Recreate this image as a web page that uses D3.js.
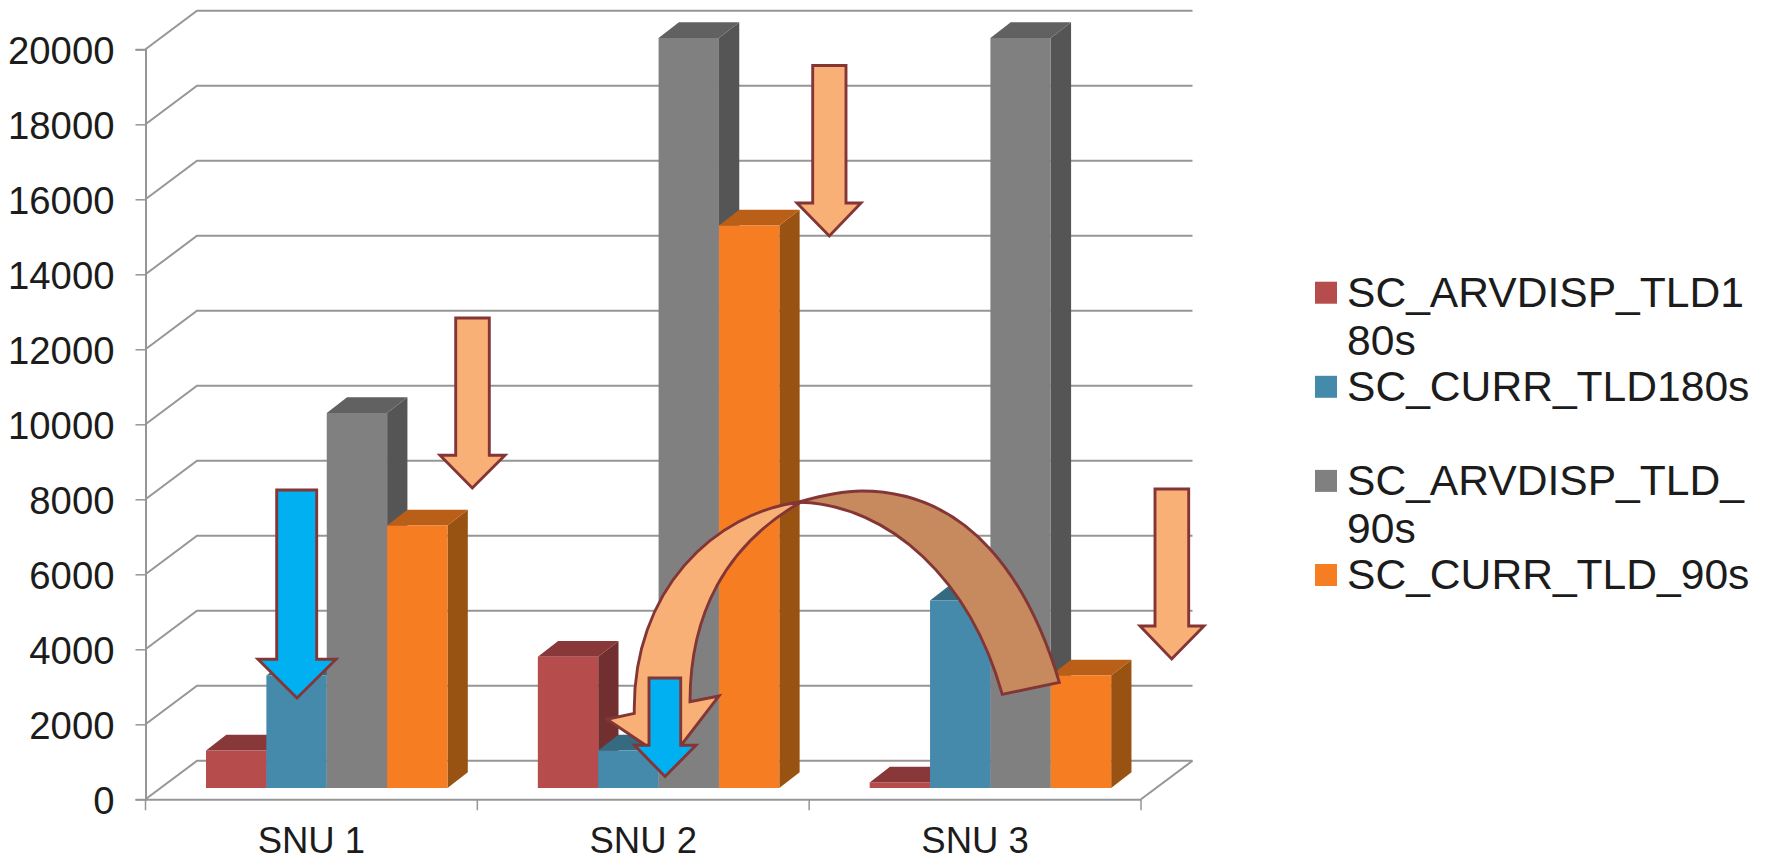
<!DOCTYPE html>
<html>
<head>
<meta charset="utf-8">
<style>
html,body{margin:0;padding:0;background:#fff;overflow:hidden}
svg{display:block}
text{font-family:"Liberation Sans",Arial,sans-serif;fill:#1c1c1c}
</style>
<script src="https://cdn.jsdelivr.net/npm/d3@7/dist/d3.min.js"></script>
</head>
<body>
<svg id="chart" width="1769" height="861"></svg>
<script>
const categories = ["SNU 1", "SNU 2", "SNU 3"];
const seriesNames = ["SC_ARVDISP_TLD180s", "SC_CURR_TLD180s", "SC_ARVDISP_TLD_90s", "SC_CURR_TLD_90s"];
const legendLines = [["SC_ARVDISP_TLD1", "80s"], ["SC_CURR_TLD180s"], ["SC_ARVDISP_TLD_", "90s"], ["SC_CURR_TLD_90s"]];
const arvdisp180 = [1000, 3500, 150];
const curr180 = [3000, 1000, 5000];
const arvdisp90 = [10000, 20000, 20000];
const curr90 = [7000, 15000, 3000];
const seriesValues = [arvdisp180, curr180, arvdisp90, curr90];
const yTicks = [0, 2000, 4000, 6000, 8000, 10000, 12000, 14000, 16000, 18000, 20000];

const frontColors = ["#B64C4C", "#468AAB", "#808080", "#F67D21"];
const topColors = ["#883838", "#356A80", "#616161", "#BA5F17"];
const sideColors = ["#722F2F", "#2E5A6E", "#555555", "#985212"];

const svg = d3.select("#chart");
const gridCol = "#969696";

// scales
const axisY = d3.scaleLinear().domain([0, 20000]).range([799.3, 49.3]);
const barY = d3.scaleLinear().domain([0, 20000]).range([788, 38]);
const band = d3.scaleBand().domain(categories).range([145.5, 1141]);
const inner = d3.scaleBand().domain(d3.range(4)).range([60.5, 60.5 + 241.5]);
const wallDx = 51.5, wallDy = -38.5, barDx = 20.3, barDy = -15.7;

// walls: grid lines
const grid = svg.append("g").attr("fill", "none").attr("stroke", gridCol).attr("stroke-width", 2);
yTicks.forEach(t => {
  const y = axisY(t);
  grid.append("path").attr("d", d3.line()([[145.5, y], [145.5 + wallDx, y + wallDy], [1141 + wallDx, y + wallDy]]));
});
grid.append("path").attr("d", d3.line()([[1141, axisY(0)], [1141 + wallDx, axisY(0) + wallDy]]));

// axes
const yAxis = svg.append("g").attr("transform", "translate(145.5,0)")
  .call(d3.axisLeft(axisY).tickValues(yTicks).tickFormat(d3.format("d")).tickSize(10).tickPadding(21));
yAxis.selectAll("path,line").attr("stroke", gridCol).attr("stroke-width", 2);
yAxis.selectAll("line").attr("stroke-width", 1.5);
yAxis.selectAll("text").attr("font-size", 38.3).attr("dy", "0.36em").style("font-family", '"Liberation Sans",Arial,sans-serif');

const xAxis = svg.append("g").attr("transform", `translate(0,${axisY(0)})`)
  .call(d3.axisBottom(band).tickSize(0).tickPadding(27.7));
xAxis.selectAll("path").attr("stroke", gridCol).attr("stroke-width", 2);
xAxis.selectAll("text").attr("font-size", 36.5).attr("dy", "0.71em").style("font-family", '"Liberation Sans",Arial,sans-serif');
d3.range(categories.length + 1).forEach(i => {
  const x = band.range()[0] + i * band.step();
  svg.append("line").attr("x1", x).attr("x2", x).attr("y1", axisY(0)).attr("y2", axisY(0) + 11)
    .attr("stroke", gridCol).attr("stroke-width", 1.5);
});

// bars
const poly = pts => d3.line()(pts) + "Z";
categories.forEach((c, ci) => {
  seriesValues.forEach((vals, si) => {
    const x0 = band(c) + inner(si), x1 = x0 + inner.bandwidth();
    const yT = barY(vals[ci]), yB = barY(0);
    const g = svg.append("g").attr("class", "bar");
    g.append("path").attr("fill", sideColors[si])
      .attr("d", poly([[x1, yT], [x1 + barDx, yT + barDy], [x1 + barDx, yB + barDy], [x1, yB]]));
    g.append("path").attr("fill", topColors[si])
      .attr("d", poly([[x0, yT], [x0 + barDx, yT + barDy], [x1 + barDx, yT + barDy], [x1, yT]]));
    g.append("rect").attr("fill", frontColors[si])
      .attr("x", x0).attr("y", yT).attr("width", x1 - x0).attr("height", yB - yT);
  });
});

// annotation arrows
const arrowStroke = "#843535", peach = "#F9B077", tan = "#C68A5E", cyan = "#00B0F0", arrowW = 2.9;
function downArrow(xl, xr, top, headY, hl, hr, tipX, tipY, fill) {
  svg.append("path").attr("fill", fill).attr("stroke", arrowStroke).attr("stroke-width", arrowW)
    .attr("stroke-linejoin", "miter")
    .attr("d", poly([[xl, top], [xr, top], [xr, headY], [hr, headY], [tipX, tipY], [hl, headY], [xl, headY]]));
}
downArrow(455.7, 489.3, 318, 455.3, 440, 505, 472.3, 488, peach);
downArrow(812.7, 846, 65.5, 203, 797, 861, 829.3, 236, peach);
downArrow(1155, 1188.7, 489, 626, 1140, 1204, 1171.7, 659, peach);
downArrow(276.7, 316.7, 490, 659.3, 258, 336, 297, 698, cyan);

// curved arrow, as cubic segments
const tanPath = d3.path();
tanPath.moveTo(800, 501.7);
tanPath.bezierCurveTo(820, 496, 840, 491, 861.7, 491);
tanPath.bezierCurveTo(970, 491, 1029, 581, 1059.3, 682.3);
tanPath.lineTo(1002.3, 694.3);
tanPath.bezierCurveTo(970, 580, 890, 505, 800, 502.3);
tanPath.closePath();
svg.append("path").attr("fill", tan).attr("stroke", arrowStroke).attr("stroke-width", arrowW).attr("stroke-linejoin", "miter")
  .attr("d", tanPath.toString());

const peachPath = d3.path();
peachPath.moveTo(801.7, 501.7);
peachPath.bezierCurveTo(715, 512, 632, 590, 634.3, 713.3);
peachPath.lineTo(607, 719.3);
peachPath.lineTo(669, 761);
peachPath.lineTo(719, 696);
peachPath.lineTo(690, 701.7);
peachPath.bezierCurveTo(690, 615, 725, 545, 801.7, 501.7);
peachPath.closePath();
svg.append("path").attr("fill", peach).attr("stroke", arrowStroke).attr("stroke-width", arrowW).attr("stroke-linejoin", "miter")
  .attr("d", peachPath.toString());

downArrow(649, 680.7, 678, 745.3, 634.5, 696, 665, 776.5, cyan);

// legend
const legendTop = 281.7, legendStep = 94.1;
seriesNames.forEach((n, i) => {
  const g = svg.append("g").attr("class", "legend-item").attr("aria-label", n)
    .attr("transform", `translate(0,${legendTop + i * legendStep})`);
  g.append("rect").attr("x", 1315).attr("y", 0).attr("width", 22).attr("height", 22).attr("fill", frontColors[i]);
  legendLines[i].forEach((l, j) => {
    g.append("text").attr("x", 1347).attr("y", 25 + j * 48.5).attr("font-size", 42.6).text(l);
  });
});
</script>
</body>
</html>
